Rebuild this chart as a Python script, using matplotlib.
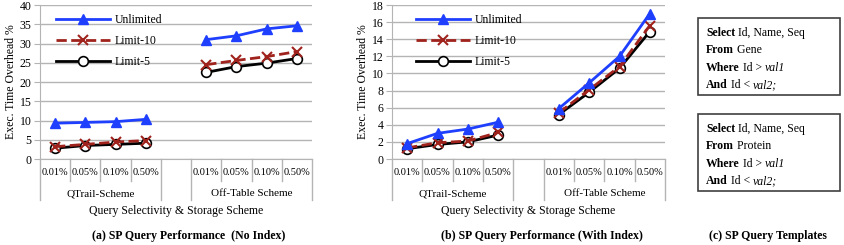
import matplotlib
matplotlib.use('Agg')
import matplotlib.pyplot as plt
import matplotlib.transforms as mtransforms
from matplotlib.patches import Rectangle

plt.rcParams['font.family'] = ['Liberation Serif', 'DejaVu Serif']

BLUE = '#1F3FFF'
RED = '#A0221C'
BLACK = '#000000'
GRID = '#B4B4B4'

selectivity = ['0.01%', '0.05%', '0.10%', '0.50%']
schemes = ['QTrail-Scheme', 'Off-Table Scheme']
series_names = ['Unlimited', 'Limit-10', 'Limit-5']

# (a) no index
a_unlimited_qtrail = [9.3, 9.5, 9.7, 10.3]
a_unlimited_offtable = [31.0, 32.0, 33.8, 34.6]
a_limit10_qtrail = [3.2, 3.8, 4.4, 4.8]
a_limit10_offtable = [24.5, 25.6, 26.6, 27.9]
a_limit5_qtrail = [2.8, 3.5, 3.8, 4.1]
a_limit5_offtable = [22.5, 24.0, 24.9, 26.1]

# (b) with index
b_unlimited_qtrail = [1.8, 3.0, 3.5, 4.3]
b_unlimited_offtable = [5.9, 8.9, 12.0, 17.0]
b_limit10_qtrail = [1.3, 1.9, 2.1, 3.1]
b_limit10_offtable = [5.4, 8.1, 10.8, 15.6]
b_limit5_qtrail = [1.2, 1.7, 2.0, 2.8]
b_limit5_offtable = [5.2, 7.8, 10.6, 14.9]

templates = ['Gene', 'Protein']

fig = plt.figure(figsize=(8.44, 2.45), dpi=100)

styles = [
    dict(color=BLUE, lw=2.0, ls='-', marker='^', ms=7, mfc=BLUE, mec=BLUE),
    dict(color=RED, lw=2.0, ls='--', marker='x', ms=7, mew=1.5, mfc=RED, mec=RED),
    dict(color=BLACK, lw=2.0, ls='-', marker='o', ms=7, mfc='white', mec=BLACK, mew=1.2),
]


def draw_panel(ax, series, ymax, ystep, legend_x):
    x_q = [0, 1, 2, 3]
    x_o = [5, 6, 7, 8]
    # draw back to front: Limit-5, Limit-10, Unlimited
    for i in [2, 1, 0]:
        q, o = series[i]
        ax.plot(x_q, q, label=series_names[i], **styles[i])
        ax.plot(x_o, o, **styles[i])
    ax.set_xlim(-0.5, 8.5)
    ax.set_ylim(0, ymax)
    ax.set_yticks(range(0, ymax + 1, ystep))
    ax.set_xticks([])
    ax.yaxis.grid(True, color=GRID, lw=1.0)
    ax.set_axisbelow(True)
    for s in ['top', 'right']:
        ax.spines[s].set_visible(False)
    ax.spines['left'].set_color(GRID)
    ax.spines['bottom'].set_color(GRID)
    ax.tick_params(axis='y', length=4, color=GRID, labelsize=8.5, pad=2)
    ax.set_ylabel('Exec. Time Overhead %', fontsize=8.5, labelpad=2)

    trans = mtransforms.blended_transform_factory(ax.transData, ax.transAxes)
    # category table under the axis
    for xb in [-0.5, 0.5, 1.5, 2.5, 3.5, 4.5, 5.5, 6.5, 7.5, 8.5]:
        low = -0.266 if xb in (-0.5, 3.5, 4.5, 8.5) else -0.143
        ax.plot([xb, xb], [0, low], transform=trans, color=GRID, lw=1.0, clip_on=False)
    for k, xs in enumerate([x_q, x_o]):
        for xi, lab in zip(xs, selectivity):
            ax.text(xi, -0.09, lab, transform=trans, ha='center', va='center', fontsize=7.5)
        ax.text(sum(xs) / 4, -0.225, schemes[k], transform=trans, ha='center', va='center', fontsize=8)
    ax.text(4, -0.34, 'Query Selectivity & Storage Scheme', transform=trans,
            ha='center', va='center', fontsize=8.5)

    handles, labels = ax.get_legend_handles_labels()
    order = [labels.index(n) for n in series_names]
    ax.legend([handles[j] for j in order], [labels[j] for j in order],
              loc='upper left', bbox_to_anchor=(legend_x, 0.97), frameon=False,
              fontsize=8.5, handlelength=4.6, handletextpad=0.4, labelspacing=0.75,
              numpoints=1, borderaxespad=0)


ax_a = fig.add_axes([40 / 844, 1 - 159 / 245, 272 / 844, 154 / 245])
draw_panel(ax_a, [(a_unlimited_qtrail, a_unlimited_offtable),
                  (a_limit10_qtrail, a_limit10_offtable),
                  (a_limit5_qtrail, a_limit5_offtable)], 40, 5, 0.04)

ax_b = fig.add_axes([392 / 844, 1 - 159 / 245, 273 / 844, 154 / 245])
draw_panel(ax_b, [(b_unlimited_qtrail, b_unlimited_offtable),
                  (b_limit10_qtrail, b_limit10_offtable),
                  (b_limit5_qtrail, b_limit5_offtable)], 18, 2, 0.07)

# (c) query templates
ax_c = fig.add_axes([0, 0, 1, 1])
ax_c.set_xlim(0, 844)
ax_c.set_ylim(245, 0)
ax_c.axis('off')

for k, table in enumerate(templates):
    top = 18 + k * 96
    ax_c.add_patch(Rectangle((698, top), 142, 77, fill=False, ec='#404040', lw=1.2))
    lines = [('Select', ' Id, Name, Seq', None),
             ('From', ' ' + table, None),
             ('Where', ' Id > ', 'val1'),
             ('And', ' Id < ', 'val2;')]
    for j, (kw, rest, it) in enumerate(lines):
        y = top + 15 + j * 17.3
        t1 = ax_c.text(706, y, kw, fontsize=8.5, fontweight='bold', va='center', ha='left')
        t2 = ax_c.annotate(rest, xy=(1, 0.5), xycoords=t1, va='center', ha='left', fontsize=8.5)
        if it:
            ax_c.annotate(it, xy=(1, 0.5), xycoords=t2, va='center', ha='left',
                          fontsize=8.5, style='italic')

captions = [(189, '(a) SP Query Performance  (No Index)'),
            (542, '(b) SP Query Performance (With Index)'),
            (768, '(c) SP Query Templates')]
for cx, cap in captions:
    ax_c.text(cx, 236, cap, ha='center', va='center', fontsize=8.5, fontweight='bold')

fig.savefig('out.png', dpi=100)
